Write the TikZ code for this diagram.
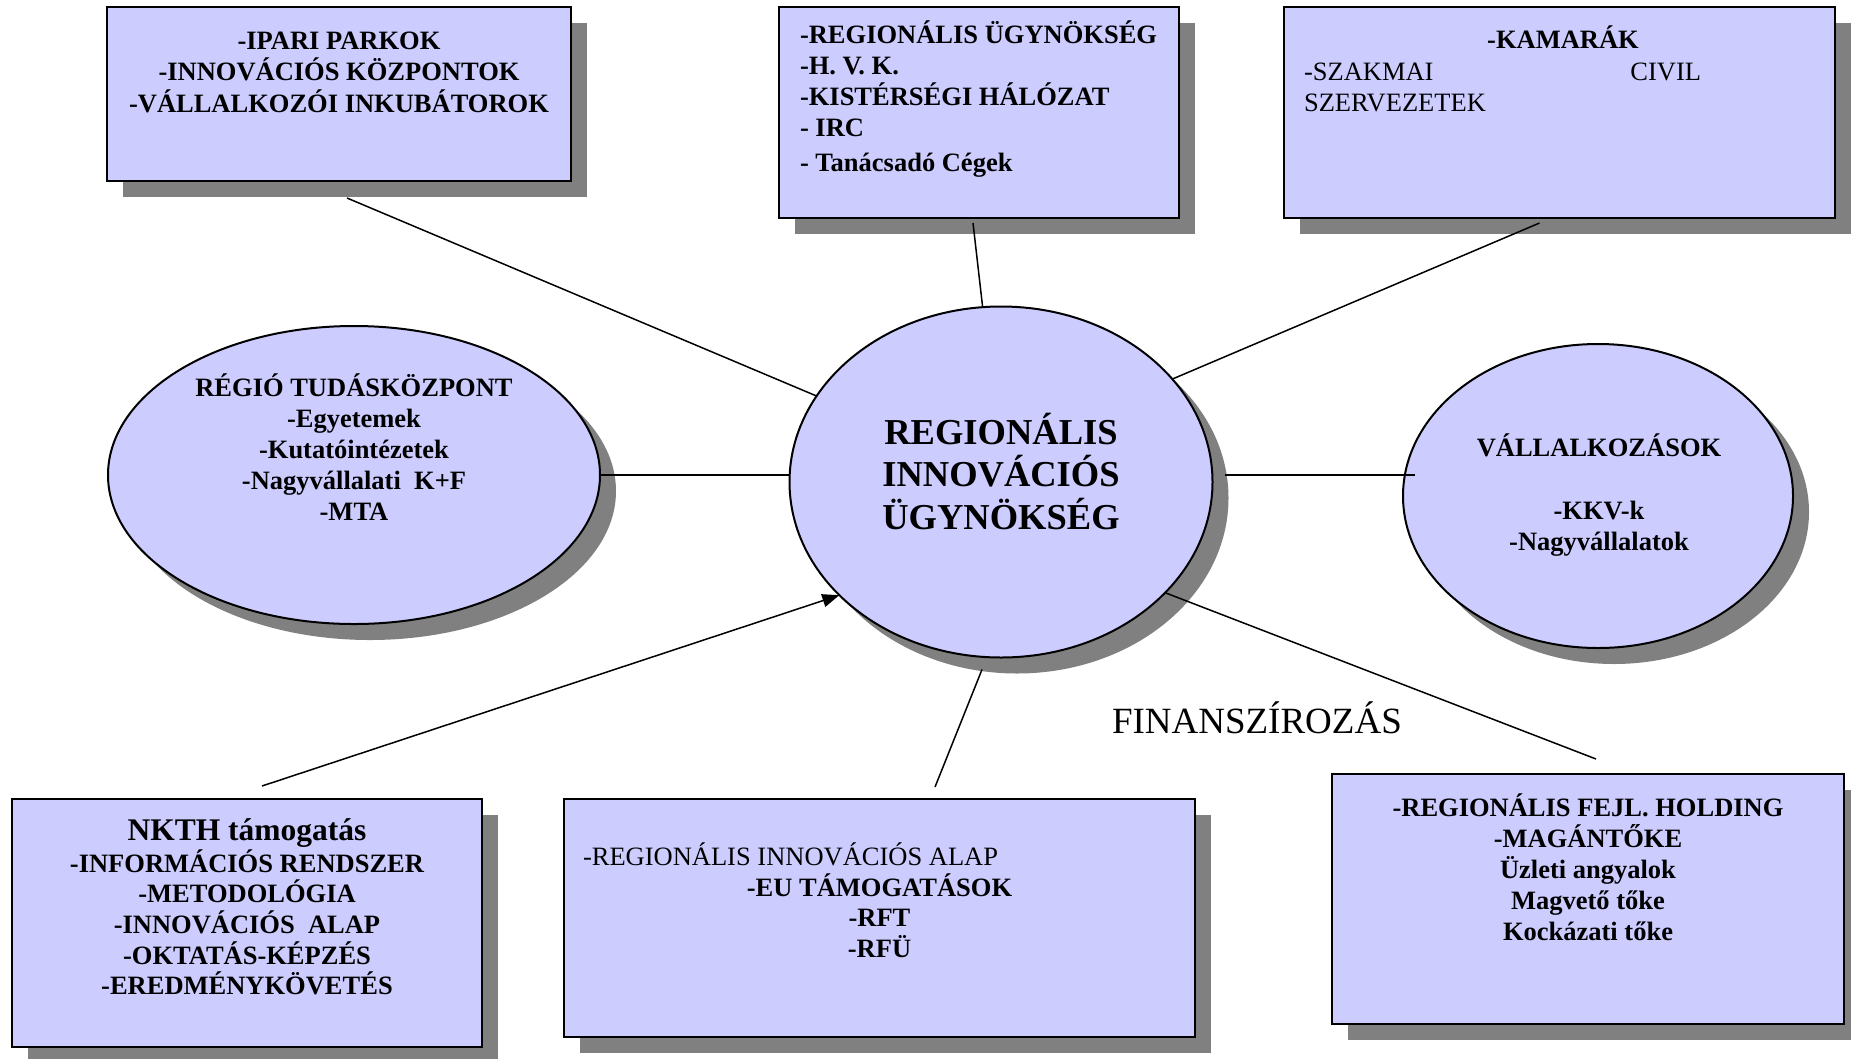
\documentclass[tikz,border=0pt]{standalone}
\usepackage{fontspec}
\setmainfont{Liberation Serif}
\usetikzlibrary{shadows,arrows.meta,shapes.geometric}
\definecolor{boxfill}{HTML}{CCCCFF}
\definecolor{shade}{HTML}{808080}
\newcommand{\tp}{\rule{0pt}{26pt}}
\newcommand{\tpbig}{\rule{0pt}{36pt}}
\begin{document}
\begin{tikzpicture}[x=1pt,y=-1pt,
  shp/.style={draw=black, line width=2pt, fill=boxfill, inner sep=0pt, outer sep=0pt,
    drop shadow={shadow xshift=16pt, shadow yshift=-16pt, fill=shade, opacity=1}},
  rbox/.style={shp, rectangle},
  ebox/.style={shp, ellipse},
  txt/.style={inner sep=0pt, outer sep=0pt, align=center, font=\bfseries\fontsize{26.5}{31.5}\selectfont},
  txtn/.style={inner sep=0pt, outer sep=0pt, font=\fontsize{26.5}{31.5}\selectfont},
  conn/.style={draw=black, line width=1.5pt},
  arr/.style={conn, -{Triangle[length=17pt,width=13pt]}}
]
\useasboundingbox (0,0) rectangle (1851,1058);
\fill[white] (0,0) rectangle (1851,1058);

% boxes
\node[rbox, minimum width=464pt, minimum height=174pt] (b1) at (339,94) {};
\node[rbox, minimum width=400pt, minimum height=211pt] (b2) at (979,112.5) {};
\node[rbox, minimum width=551pt, minimum height=211pt] (b3) at (1559.5,112.5) {};
\node[rbox, minimum width=470pt, minimum height=248pt] (b4) at (247,923) {};
\node[rbox, minimum width=631pt, minimum height=238pt] (b5) at (879.5,918) {};
\node[rbox, minimum width=512pt, minimum height=250pt] (b6) at (1588,899) {};

% ellipses
\node[ebox, minimum width=492pt, minimum height=298pt] (l) at (354,475) {};
\node[ebox, minimum width=423pt, minimum height=351pt] (c) at (1001,482) {};
\node[ebox, minimum width=390pt, minimum height=304pt] (r) at (1598,496) {};

% connectors
\coordinate (cr1) at ([xshift=12pt]c.east);
\coordinate (cr2) at ([xshift=12pt]r.west);
\draw[conn] ([shift={(8,17)}]b1.south) -- (c.155);
\draw[conn] ([shift={(-6,5)}]b2.south) -- (c.96);
\draw[conn] ([shift={(-20,5)}]b3.south) -- (c.31);
\draw[conn] (l.east) -- (l.east -| c.west);
\draw[conn] (cr1 |- l.east) -- (cr2 |- l.east);
\draw[arr] ([shift={(15,-13)}]b4.north) -- (c.215);
\draw[conn] ([shift={(55.5,-12)}]b5.north) -- ([shift={(-19,12)}]c.south);
\draw[conn] (c.-34) -- ([shift={(8,-15)}]b6.north);

% texts
\node[txt, anchor=north] (t1) at (339,23) {\tp -IPARI PARKOK\\-INNOVÁCIÓS KÖZPONTOK\\-VÁLLALKOZÓI INKUBÁTOROK};
\node[txt, align=left, anchor=north west, font=\bfseries\fontsize{26.5}{31}\selectfont] (t2) at (800,17)
  {\tp -REGIONÁLIS ÜGYNÖKSÉG\\-H. V. K.\\-KISTÉRSÉGI HÁLÓZAT\\- IRC\\[4pt]- Tanácsadó Cégek};
\node[txt, anchor=base] (t3a) at (1563,48) {-KAMARÁK};
\node[txtn, align=left, anchor=north west] (t3b) at (1304,54)
  {\makebox[397pt][l]{\tp -SZAKMAI\hfill CIVIL}\\SZERVEZETEK};
\node[txt, anchor=base, font=\bfseries\fontsize{31.5}{36}\selectfont] (t4a) at (247,840) {NKTH támogatás};
\node[txt, anchor=north, font=\bfseries\fontsize{26.5}{30.7}\selectfont] (t4b) at (247,846)
  {\tp -INFORMÁCIÓS RENDSZER\\-METODOLÓGIA\\-INNOVÁCIÓS\ \ ALAP\\-OKTATÁS-KÉPZÉS\\-EREDMÉNYKÖVETÉS};
\node[txtn, anchor=base west] (t5a) at (583,865) {-REGIONÁLIS INNOVÁCIÓS ALAP};
\node[txt, anchor=north, font=\bfseries\fontsize{26.5}{30.7}\selectfont] (t5b) at (879.5,870)
  {\tp -EU TÁMOGATÁSOK\\-RFT\\-RFÜ};
\node[txt, anchor=north, font=\bfseries\fontsize{26.5}{31}\selectfont] (t6) at (1588,790)
  {\tp -REGIONÁLIS FEJL. HOLDING\\-MAGÁNTŐKE\\Üzleti angyalok\\Magvető tőke\\Kockázati tőke};
\node[txt, anchor=north, font=\bfseries\fontsize{26.5}{31}\selectfont] (tl) at (354,370)
  {\tp RÉGIÓ TUDÁSKÖZPONT\\-Egyetemek\\-Kutatóintézetek\\-Nagyvállalati\ \ K+F\\-MTA};
\node[txt, anchor=north] (tr) at (1599,430)
  {\tp VÁLLALKOZÁSOK\\[31.5pt]-KKV-k\\-Nagyvállalatok};
\node[txt, anchor=north, font=\bfseries\fontsize{36.5}{42.5}\selectfont] (tc) at (1001,408)
  {\tpbig REGIONÁLIS\\INNOVÁCIÓS\\ÜGYNÖKSÉG};
\node[txtn, anchor=base west, font=\fontsize{37}{42}\selectfont] (fin) at (1112,733) {FINANSZÍROZÁS};
\end{tikzpicture}
\end{document}
